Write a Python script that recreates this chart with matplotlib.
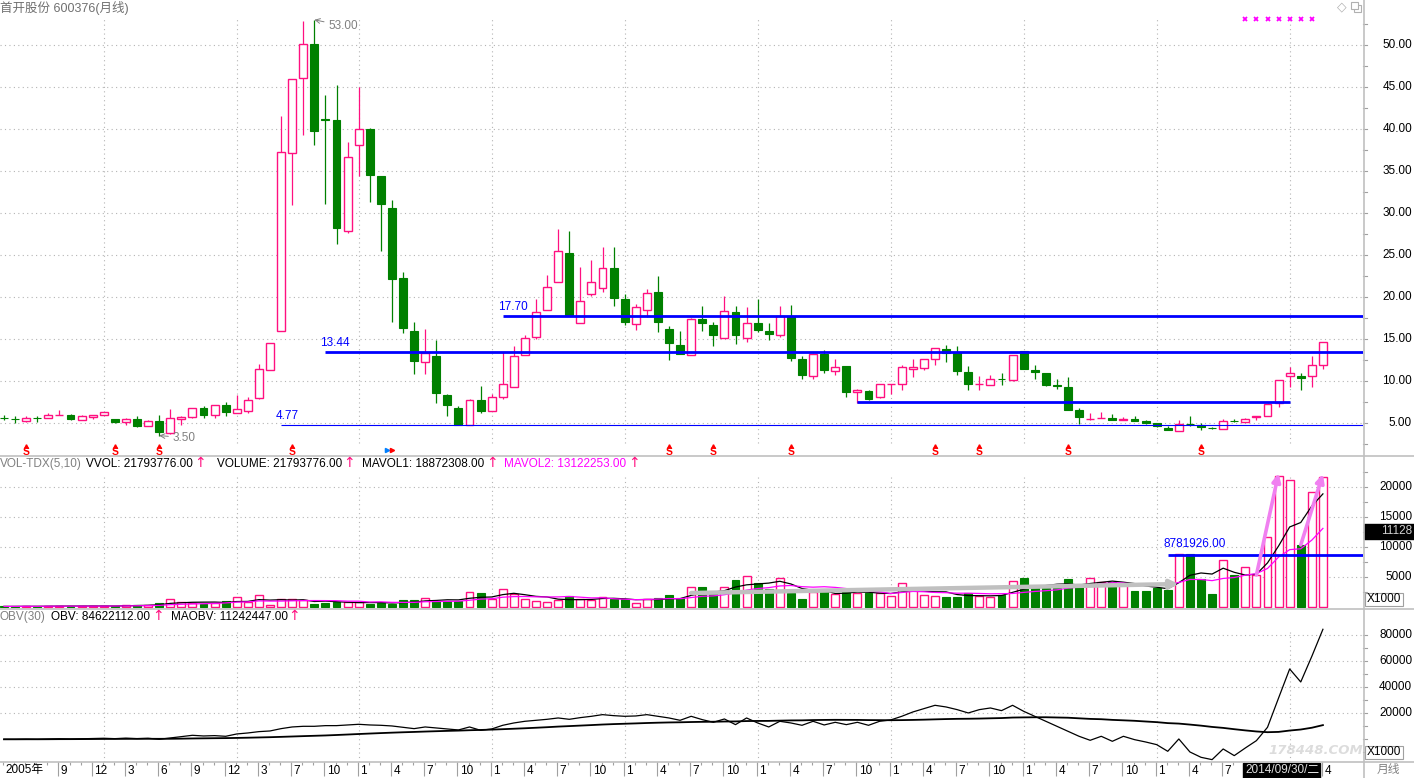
import matplotlib
matplotlib.use("Agg")
import matplotlib.pyplot as plt
from matplotlib.lines import Line2D
from matplotlib.patches import Rectangle
import numpy as np
import pandas as pd

plt.rcParams['font.family'] = ['Liberation Sans', 'Noto Sans CJK SC', 'DejaVu Sans']

# ---- data (monthly candles, 2005-04 .. 2015-04) ----
opens = [5.62, 5.52, 5.24, 5.62, 5.6, 5.9, 5.95, 5.4, 5.7, 5.9,
         5.48, 5.12, 5.48, 4.6, 5.28, 3.8, 5.48, 5.7, 6.8, 6.0,
         7.14, 6.2, 6.39, 7.98, 11.3, 15.95, 37.1, 46.03, 50.1, 41.2,
         41.1, 27.9, 38.05, 40.04, 34.44, 30.6, 22.3, 16.0, 12.22, 13.0,
         8.37, 6.83, 4.77, 7.78, 6.39, 8.1, 9.25, 13.06, 15.2, 18.45,
         21.8, 25.24, 16.9, 20.3, 21.07, 23.5, 19.8, 16.8, 18.4, 20.6,
         16.2, 14.29, 13.1, 17.38, 16.67, 15.12, 18.2, 15.12, 16.9, 15.95,
         15.48, 17.7, 12.62, 10.6, 13.2, 11.19, 11.83, 8.69, 8.81, 8.1,
         9.6, 9.64, 11.4, 11.55, 12.62, 13.8, 13.41, 11.07, 9.6, 9.48,
         10.28, 10.08, 13.53, 11.35, 10.95, 9.56, 9.29, 6.59, 5.44, 5.56,
         5.6, 5.32, 5.48, 5.2, 5.0, 4.4, 4.0, 4.92, 4.76, 4.44,
         4.29, 5.24, 5.12, 5.71, 5.87, 7.38, 10.63, 10.63, 10.63, 11.86]
highs = [5.9, 5.8, 5.8, 5.87, 6.2, 6.5, 6.07, 5.9, 5.95, 6.27,
         5.48, 5.6, 5.87, 5.32, 6.0, 6.7, 5.8, 6.8, 7.06, 7.1,
         7.46, 8.3, 8.1, 12.06, 14.52, 41.6, 45.95, 52.9, 53.0, 44.0,
         45.2, 38.45, 44.96, 40.1, 34.44, 31.6, 22.94, 17.06, 16.23, 14.84,
         8.45, 7.06, 7.9, 9.37, 8.5, 13.4, 14.2, 15.5, 19.8, 22.66,
         28.1, 27.8, 23.53, 24.45, 26.0, 26.0, 20.3, 19.2, 21.0, 22.54,
         16.6, 15.99, 17.5, 18.97, 17.0, 20.16, 18.97, 18.8, 19.76, 16.9,
         18.97, 19.1, 13.02, 13.33, 13.73, 12.62, 11.83, 9.05, 8.97, 9.64,
         9.64, 11.94, 12.62, 12.62, 13.93, 14.33, 14.2, 11.75, 10.63, 10.75,
         10.95, 13.06, 13.53, 11.94, 10.95, 10.28, 10.44, 6.79, 6.19, 6.31,
         6.07, 5.67, 5.8, 5.32, 5.0, 4.6, 5.32, 5.8, 5.0, 4.48,
         5.48, 5.48, 5.6, 5.87, 7.38, 10.16, 11.63, 10.95, 12.94, 14.64]
lows = [5.3, 5.0, 5.16, 5.16, 5.6, 5.9, 5.32, 5.3, 5.5, 5.9,
        4.96, 4.72, 4.48, 4.6, 3.5, 3.73, 4.72, 5.6, 5.56, 5.56,
        5.87, 6.2, 6.2, 7.9, 11.3, 15.95, 31.0, 39.25, 38.1, 31.1,
        26.27, 27.6, 34.4, 31.27, 25.44, 17.0, 15.7, 10.8, 10.8, 7.38,
        5.8, 4.77, 4.77, 6.2, 6.39, 7.86, 9.25, 13.06, 15.04, 18.45,
        21.8, 17.86, 16.9, 20.08, 20.6, 18.9, 16.7, 16.03, 17.62, 15.8,
        12.54, 13.17, 13.1, 16.0, 14.13, 15.12, 14.4, 14.6, 15.87, 14.92,
        15.2, 12.34, 10.28, 10.28, 10.95, 10.75, 8.06, 7.38, 7.7, 7.94,
        8.5, 8.9, 10.44, 11.35, 11.86, 12.22, 10.67, 8.97, 8.9, 9.48,
        9.56, 10.0, 11.43, 10.28, 9.37, 9.09, 6.51, 4.92, 5.32, 5.56,
        5.32, 5.32, 5.2, 4.84, 4.48, 4.13, 4.0, 4.68, 4.13, 4.29,
        4.29, 5.08, 5.12, 5.32, 5.87, 6.9, 9.25, 8.97, 9.25, 11.47]
closes = [5.58, 5.48, 5.6, 5.58, 6.0, 5.95, 5.48, 5.8, 5.95, 6.27,
          5.08, 5.48, 4.6, 5.2, 3.89, 5.6, 5.7, 6.8, 6.0, 7.1,
          6.27, 6.67, 7.74, 11.43, 14.52, 37.26, 45.95, 50.1, 39.8, 41.1,
          28.25, 36.7, 40.0, 34.5, 31.03, 22.2, 16.27, 12.34, 13.33, 8.53,
          7.18, 4.8, 7.78, 6.39, 8.1, 9.68, 13.0, 15.12, 18.2, 21.19,
          25.5, 17.86, 19.52, 21.8, 23.45, 19.84, 17.0, 18.8, 20.48, 17.0,
          14.52, 13.17, 17.38, 16.9, 15.48, 18.33, 15.48, 16.9, 16.03, 15.56,
          17.7, 12.7, 10.67, 13.2, 11.27, 11.67, 8.65, 8.93, 7.82, 9.64,
          9.64, 11.67, 11.67, 12.62, 13.93, 13.33, 11.15, 9.68, 9.7, 10.24,
          10.2, 13.06, 11.43, 11.03, 9.56, 9.37, 6.59, 5.71, 5.48, 5.6,
          5.4, 5.48, 5.24, 5.0, 4.6, 4.2, 4.88, 4.88, 4.48, 4.4,
          5.2, 5.2, 5.48, 5.87, 7.26, 10.16, 10.95, 10.36, 11.86, 14.64]
# volume, x1000 shares
volume = [150, 150, 200, 150, 250, 250, 200, 200, 200, 250,
          250, 390, 390, 390, 720, 1390, 890, 800, 500, 780,
          1060, 1670, 890, 2000, 390, 1390, 1330, 1170, 560, 720,
          890, 890, 890, 560, 720, 560, 1220, 1220, 1610, 1110,
          1110, 1110, 2560, 2440, 1390, 3060, 2220, 1390, 1060, 890,
          1220, 1830, 1390, 1220, 1670, 1390, 1390, 670, 1390, 1560,
          2060, 1560, 3330, 3330, 2330, 3330, 4560, 5170, 4060, 3060,
          4830, 2330, 1390, 2500, 3060, 2220, 2610, 2330, 2330, 2330,
          1890, 4000, 3170, 2000, 1890, 1780, 1780, 2330, 1890, 1780,
          2060, 4390, 4940, 3560, 3170, 3170, 4720, 3940, 4830, 4170,
          4170, 3830, 2780, 2780, 3170, 2940, 8830, 8940, 4720, 2280,
          7830, 5390, 6670, 5390, 11720, 21940, 21220, 10390, 19170, 21794]
# OBV, x1000
obv = [0, 0, 100, 0, 200, 400, 200, 400, 600, 800,
       500, 900, 500, 800, 0, 1030, 2050, 3080, 2560, 2820,
       2310, 4100, 4870, 5900, 6410, 8200, 9490, 10000, 10000, 10510,
       10510, 11030, 11540, 11030, 10770, 10260, 9230, 8200, 9490, 8720,
       7950, 7180, 9490, 6920, 7950, 10770, 12560, 13850, 14610, 15380,
       16410, 15380, 16670, 17690, 18970, 18200, 17690, 17950, 18970, 17690,
       16410, 14610, 17690, 15130, 13080, 15640, 11280, 16410, 12560, 9490,
       13850, 12560, 10770, 13850, 11030, 13080, 11280, 13080, 10770, 13850,
       14870, 17690, 21020, 23590, 26150, 24870, 22820, 20260, 22820, 24100,
       22050, 26150, 21540, 17690, 13850, 10000, 6150, 2310, -770, 2310,
       -1540, 2310, -260, -2050, -4100, -9230, 260, -9740, -13850, -15640,
       -7440, -12560, -6670, -1030, 9230, 31790, 54100, 44100, 63840, 84622]

level_vals = [17.70, 13.44, 7.50, 4.77]
level_start = [45, 29, 77, 25]
level_end = [None, None, 116, None]
level_text = ['17.70', '13.44', '', '4.77']
signal_idx = [2, 10, 14, 26, 60, 64, 71, 84, 88, 96, 108]
year_idx = [9, 21, 32, 44, 56, 68, 80, 92, 104, 116]
tick_idx = [0, 5, 8, 11, 14, 17, 20, 23, 26, 29, 32, 35, 38, 41, 44, 47, 50, 53, 56,
            59, 62, 65, 68, 71, 74, 77, 80, 83, 86, 89, 92, 95, 98, 101, 104, 107, 110, 119]
tick_txt = ['2005年', '9', '12', '3', '6', '9', '12', '3', '7', '10', '1', '4', '7', '10',
            '1', '4', '7', '10', '1', '4', '7', '10', '1', '4', '7', '10', '1', '4', '7', '10',
            '1', '4', '7', '10', '1', '4', '7', '4']

PINK = '#ff1080'
GREEN = '#008000'
GRID = '#b4b4b4'
SEP = '#c0c0c0'
W, H = 1414, 778

opens = np.array(opens); highs = np.array(highs); lows = np.array(lows); closes = np.array(closes)
volume = np.array(volume, dtype=float); obv = np.array(obv, dtype=float)
n = len(closes)
x = np.arange(n)
up = closes >= opens
ma5 = pd.Series(volume).rolling(5, min_periods=1).mean()
ma10 = pd.Series(volume).rolling(10, min_periods=1).mean()
maobv = pd.Series(obv).rolling(30, min_periods=1).mean()

fig = plt.figure(figsize=(W / 100, H / 100), dpi=100)
fig.patch.set_facecolor('white')

step = 133 / 12.0
XMIN = -4 / step
XMAX = (1363 - 4) / step


def add_panel(y0, y1, ylim):
    ax = fig.add_axes([0, 1 - y1 / H, 1363 / W, (y1 - y0) / H])
    ax.set_xlim(XMIN, XMAX)
    ax.set_ylim(*ylim)
    ax.axis('off')
    return ax


def fx(px):
    return px / W


def fy(py):
    return 1 - py / H


ax1 = add_panel(0, 456, (5 - 33 / 8.4, 5 + 423 / 8.4))
ax2 = add_panel(456, 609, (-283, 25217))
ax3 = add_panel(609, 762, (-17462, 100230))
ax4 = add_panel(762, 778, (16, 0))

dot = (0, (1, 3))


def right_labels(ax, vals, fmt, ticks):
    tr = ax.get_yaxis_transform()
    for v in vals:
        ax.text(1412 / 1363, v, fmt.format(v), transform=tr, ha='right', va='center',
                fontsize=8.5, color='black', clip_on=False)
    for t in ticks:
        ax.plot([1.0, 1.0 + 4 / 1363], [t, t], transform=tr, color='#a0a0a0', lw=0.8, clip_on=False)


# ---- price panel ----
price_grid = np.arange(5, 51, 5)
ax1.hlines(price_grid, XMIN, XMAX, colors=GRID, linestyles=dot, lw=0.8, zorder=0)
ax1.vlines(year_idx, 2.62, 53.1, colors=GRID, linestyles=dot, lw=0.8, zorder=0)
right_labels(ax1, price_grid, '{:.2f}', np.arange(2.5, 53, 2.5))

ax1.vlines(x, lows, highs, colors=np.where(up, PINK, GREEN), lw=0.9, zorder=2)
body_lo = np.minimum(opens, closes)
body_h = np.abs(closes - opens)
ax1.bar(x[up], body_h[up], bottom=body_lo[up], width=0.72, facecolor='white',
        edgecolor=PINK, lw=1.0, zorder=3)
ax1.bar(x[~up], body_h[~up], bottom=body_lo[~up], width=0.72, facecolor=GREEN,
        edgecolor=GREEN, lw=0.8, zorder=3)

for v, s, e, t in zip(level_vals, level_start, level_end, level_text):
    ax1.hlines(v, s, XMAX if e is None else e, colors='#0000ff',
               lw=0.8 if v < 5 else 2.0, zorder=4)
    if t:
        ax1.text(s - 0.45, v + 0.35, t, color='#0000ff', fontsize=8.5, ha='left', va='bottom')

ax1.annotate('53.00', xy=(28, 53.0), xytext=(29.25, 52.3), color='#808080', fontsize=8.5,
             va='center', ha='left',
             arrowprops=dict(arrowstyle='->', color='#808080', lw=0.7, shrinkA=1, shrinkB=0))
ax1.annotate('3.50', xy=(14, 3.5), xytext=(15.2, 3.27), color='#808080', fontsize=8.5,
             va='center', ha='left',
             arrowprops=dict(arrowstyle='->', color='#808080', lw=0.7, shrinkA=1, shrinkB=0))

for i in signal_idx:
    ax1.text(i, 1.55, 'S', color='red', fontsize=7.5, fontweight='bold', ha='center', va='center')
    ax1.plot(i, 2.3, marker='^', color='red', ms=2.5)
ax1.plot([34.6], [1.79], marker='>', color='#0080ff', ms=3)
ax1.plot([35.0], [1.79], marker='>', color='red', ms=3)

ax1.plot(np.arange(112, 119), [53.1] * 7, ls='none', marker='x', color='#ff00ff', ms=3.5, mew=1.3)

fig.text(0, fy(8), '首开股份 600376(月线)', color='#707070', fontsize=9, ha='left', va='center')
fig.text(fx(1342), fy(7), '◇', color='#b0b0b0', fontsize=9, ha='center', va='center',
         family='DejaVu Sans')
fig.add_artist(Rectangle((fx(1354), fy(12)), 7 / W, 7 / H, fill=False, ec='#b0b0b0', lw=0.8))
fig.add_artist(Rectangle((fx(1351), fy(9)), 7 / W, 7 / H, fc='white', ec='#b0b0b0', lw=0.8))

# ---- volume panel ----
vol_grid = [5000, 10000, 15000, 20000]
ax2.hlines(vol_grid, XMIN, XMAX, colors=GRID, linestyles=dot, lw=0.8, zorder=0)
ax2.vlines(year_idx, 0, 21880, colors=GRID, linestyles=dot, lw=0.8, zorder=0)
right_labels(ax2, vol_grid, '{:d}', np.arange(2500, 23000, 2500))

ax2.bar(x[up], volume[up], width=0.72, facecolor='white', edgecolor=PINK, lw=1.0, zorder=2)
ax2.bar(x[~up], volume[~up], width=0.72, facecolor=GREEN, edgecolor=GREEN, lw=0.8, zorder=2)
ax2.plot(x, ma5, color='black', lw=0.9, zorder=3)
ax2.plot(x, ma10, color='#ff00ff', lw=0.9, zorder=3)

ax2.hlines(8782, 105, XMAX, colors='#0000ff', lw=2.0, zorder=4)
ax2.text(104.6, 8782 + 700, '8781926.00', color='#0000ff', fontsize=8.5, ha='left', va='bottom')

ax2.annotate('', xy=(106, 3880), xytext=(62, 2380),
             arrowprops=dict(arrowstyle='-|>', color='#c0c0c0', lw=3.2, mutation_scale=12,
                             shrinkA=0, shrinkB=0), zorder=5)
for a, b in [(113, 115), (117, 119)]:
    ax2.annotate('', xy=(b, volume[b] + 400), xytext=(a, volume[a]),
                 arrowprops=dict(arrowstyle='-|>', color='#f080f0', lw=2.6, mutation_scale=12,
                                 shrinkA=0, shrinkB=0), zorder=5)

legend_y = fy(464)
parts = [(0, 'VOL-TDX(5,10)', '#808080'), (86, 'VVOL: 21793776.00', 'black'),
         (217, 'VOLUME: 21793776.00', 'black'), (362, 'MAVOL1: 18872308.00', 'black'),
         (504, 'MAVOL2: 13122253.00', '#ff00ff')]
for px, t, c in parts:
    fig.text(fx(px), legend_y, t, color=c, fontsize=8.5, ha='left', va='center')
for px in [200, 349, 492, 634]:
    fig.text(fx(px), fy(463), '↑', color=PINK, fontsize=10, ha='center', va='center',
             family='DejaVu Sans')

fig.add_artist(Rectangle((fx(1364), fy(539)), 50 / W, 15 / H, fc='black', ec='black'))
fig.text(fx(1412), fy(531), '11128', color='#d0d0d0', fontsize=8.5, ha='right', va='center')
fig.add_artist(Rectangle((fx(1365), fy(606)), 38 / W, 13 / H, fc='white', ec='#a0a0a0', lw=0.8))
fig.text(fx(1384), fy(599), 'X1000', color='black', fontsize=8.5, ha='center', va='center')

# ---- OBV panel ----
obv_grid = [20000, 40000, 60000, 80000]
ax3.hlines(obv_grid, XMIN, XMAX, colors=GRID, linestyles=dot, lw=0.8, zorder=0)
ax3.vlines(year_idx, -17462, 85070, colors=GRID, linestyles=dot, lw=0.8, zorder=0)
right_labels(ax3, obv_grid, '{:d}', np.arange(-10000, 90000, 10000))
ax3.plot(x, obv, color='black', lw=0.9, zorder=3)
ax3.plot(x, maobv, color='black', lw=1.3, zorder=3)

parts = [(0, 'OBV(30)', '#808080'), (51, 'OBV: 84622112.00', 'black'),
         (171, 'MAOBV: 11242447.00', 'black')]
for px, t, c in parts:
    fig.text(fx(px), fy(617), t, color=c, fontsize=8.5, ha='left', va='center')
for px in [158, 294]:
    fig.text(fx(px), fy(616), '↑', color=PINK, fontsize=10, ha='center', va='center',
             family='DejaVu Sans')

# faint site watermark
fig.text(fx(1316), fy(751), '178448.COM', color='#d4d4d4', alpha=0.8, fontsize=9.5,
         fontweight='bold', fontstyle='italic', ha='center', va='center', family='DejaVu Sans')
fig.add_artist(Rectangle((fx(1365), fy(759)), 38 / W, 13 / H, fc='white', ec='#a0a0a0', lw=0.8))
fig.text(fx(1384), fy(752), 'X1000', color='black', fontsize=8.5, ha='center', va='center')

# ---- date band ----
ax4.vlines(x - 0.09, 0, 3, colors='#a0a0a0', lw=0.8)
for i, t in zip(tick_idx, tick_txt):
    if i > 0:
        ax4.vlines(i - 0.09, 0, 14, colors='#a0a0a0', lw=0.8)
    ax4.text(i + 0.12, 8.5, t, fontsize=8.5, ha='left', va='center', color='black')
fig.add_artist(Rectangle((fx(1243), 0), 77 / W, 15 / H, fc='black', ec='black'))
fig.text(fx(1245), fy(770), '2014/09/30/二', color='#e0e0e0', fontsize=8.5, ha='left', va='center')
fig.text(fx(1388), fy(770), '月线', color='#808080', fontsize=8.5, ha='center', va='center')

# ---- panel separators ----
for py in [456, 609, 762]:
    fig.add_artist(Line2D([0, 1], [fy(py), fy(py)], color=SEP, lw=1.2))
fig.add_artist(Line2D([fx(1363.5), fx(1363.5)], [0, 1], color=SEP, lw=1.2))

fig.savefig('out.png', dpi=100)
